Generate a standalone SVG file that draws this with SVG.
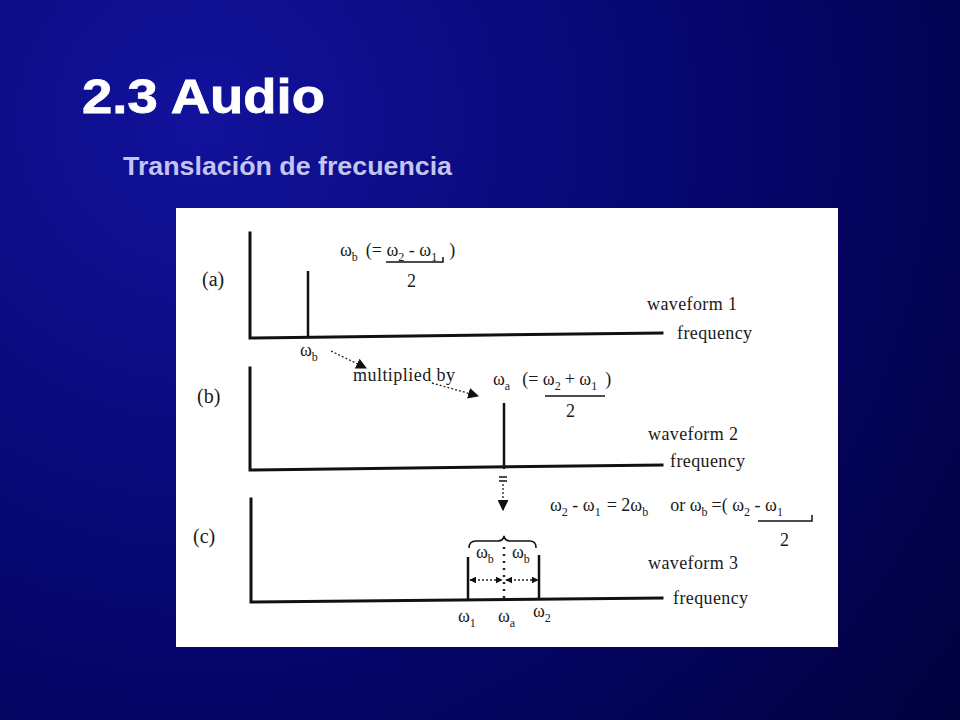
<svg xmlns="http://www.w3.org/2000/svg" width="960" height="720" viewBox="0 0 960 720">
<defs>
<radialGradient id="bg" cx="200" cy="120" r="1000" gradientUnits="userSpaceOnUse">
<stop offset="0" stop-color="#12129c"/>
<stop offset="0.55" stop-color="#05056a"/>
<stop offset="1" stop-color="#00003a"/>
</radialGradient>
<marker id="ah" viewBox="0 0 10 10" refX="9" refY="5" markerWidth="11" markerHeight="11" markerUnits="userSpaceOnUse" orient="auto">
<path d="M0,0 L10,5 L0,10 z" fill="#111"/>
</marker>
<marker id="ahs" viewBox="0 0 10 10" refX="9" refY="5" markerWidth="7" markerHeight="7" markerUnits="userSpaceOnUse" orient="auto-start-reverse">
<path d="M0,0 L10,5 L0,10 z" fill="#111"/>
</marker>
</defs>
<style>
.t{font-family:"Liberation Serif","Times New Roman",serif;font-size:18px;fill:#1a1a1a}
.lb{font-size:20px}
.s{font-size:12px}
.ax{stroke:#111;stroke-width:3;fill:none;stroke-linecap:square}
.sp{stroke:#111;stroke-width:2.5;fill:none}
.thin{stroke:#111;stroke-width:1.5;fill:none}
.dot{stroke:#222;stroke-width:1.3;stroke-dasharray:2 2;fill:none}
</style>
<rect width="960" height="720" fill="url(#bg)"/>
<g id="title">
<text x="82" y="113" font-family="Liberation Sans,Arial,sans-serif" font-weight="bold" font-size="48" fill="#ffffff" stroke="#ffffff" stroke-width="0.8" textLength="243" lengthAdjust="spacingAndGlyphs">2.3 Audio</text>
<text x="123" y="175" font-family="Liberation Sans,Arial,sans-serif" font-weight="bold" font-size="25" fill="#c4c4f0" textLength="329" lengthAdjust="spacingAndGlyphs">Translación de frecuencia</text>
</g>
<rect id="panel" x="176" y="208" width="662" height="439" fill="#ffffff"/>

<g id="panel-a">
<path class="ax" d="M250,233 L250,338 L662,333"/>
<line class="sp" x1="308" y1="271" x2="308" y2="337"/>
<text class="t lb" x="202" y="286">(a)</text>
<text class="t" x="340" y="256">ω<tspan class="s" dy="5">b</tspan><tspan dy="-5" dx="8">(= ω</tspan><tspan class="s" dy="5">2</tspan><tspan dy="-5"> - ω</tspan><tspan class="s" dy="5">1</tspan><tspan dy="-5" dx="12">)</tspan></text>
<path class="thin" d="M386,262 L443,262 L443,257"/>
<text class="t" x="407" y="287">2</text>
<text class="t" x="647" y="310" textLength="90">waveform 1</text>
<text class="t" x="677" y="339" textLength="75">frequency</text>
<text class="t" x="300" y="356">ω<tspan class="s" dy="5">b</tspan></text>
</g>

<g id="panel-b">
<path class="ax" d="M250,368 L250,470 L662,465"/>
<line class="sp" x1="504" y1="403" x2="504" y2="469"/>
<text class="t lb" x="197" y="403">(b)</text>
<text class="t" x="353" y="381" textLength="102">multiplied by</text>
<text class="t" x="493" y="385">ω<tspan class="s" dy="5">a</tspan><tspan dy="-5" dx="12">(= ω</tspan><tspan class="s" dy="5">2</tspan><tspan dy="-5" dx="4">+  ω</tspan><tspan class="s" dy="5">1</tspan><tspan dy="-5" dx="8">)</tspan></text>
<line class="thin" x1="545" y1="396" x2="605" y2="396"/>
<text class="t" x="566" y="417">2</text>
<text class="t" x="648" y="440" textLength="90">waveform 2</text>
<text class="t" x="670" y="467" textLength="75">frequency</text>
</g>

<g id="panel-c">
<path class="ax" d="M251,499 L251,602 L662,598"/>
<line class="sp" x1="468" y1="557" x2="468" y2="601"/>
<line class="sp" x1="539" y1="555" x2="539" y2="600"/>
<text class="t lb" x="193" y="543">(c)</text>
<text class="t" x="550" y="511">ω<tspan class="s" dy="5">2</tspan><tspan dy="-5"> - ω</tspan><tspan class="s" dy="5">1</tspan><tspan dy="-5" dx="6">= 2ω</tspan><tspan class="s" dy="5">b</tspan><tspan dy="-5" dx="22">or  ω</tspan><tspan class="s" dy="5">b</tspan><tspan dy="-5" dx="4">=( ω</tspan><tspan class="s" dy="5">2</tspan><tspan dy="-5"> - ω</tspan><tspan class="s" dy="5">1</tspan></text>
<path class="thin" d="M758,521 L812,521 L812,515"/>
<text class="t" x="780" y="546">2</text>
<path class="thin" d="M469,548 Q469,541 476,541 L498,541 Q503,541 504,536 Q505,541 510,541 L530,541 Q536,541 536,548"/>
<text class="t" x="476" y="558">ω<tspan class="s" dy="5">b</tspan></text>
<text class="t" x="512" y="558">ω<tspan class="s" dy="5">b</tspan></text>
<text class="t" x="648" y="569" textLength="90">waveform 3</text>
<text class="t" x="673" y="604" textLength="75">frequency</text>
<text class="t" x="458" y="622">ω<tspan class="s" dy="5">1</tspan></text>
<text class="t" x="498" y="622">ω<tspan class="s" dy="5">a</tspan></text>
<text class="t" x="533" y="617">ω<tspan class="s" dy="5">2</tspan></text>
</g>

<g id="connectors">
<line class="dot" x1="331" y1="351" x2="366" y2="368" marker-end="url(#ah)"/>
<line class="dot" x1="432" y1="383" x2="478" y2="396" marker-end="url(#ah)"/>
<line class="thin" x1="499" y1="477" x2="507" y2="477"/>
<line class="thin" x1="499" y1="481" x2="507" y2="481"/>
<line class="dot" x1="503" y1="484" x2="503" y2="510" marker-end="url(#ah)"/>
<line stroke="#222" stroke-width="2.5" stroke-dasharray="2 5" x1="504" y1="547" x2="504" y2="601"/>
<line class="dot" x1="470" y1="580" x2="502" y2="580" marker-start="url(#ahs)" marker-end="url(#ahs)"/>
<line class="dot" x1="506" y1="580" x2="538" y2="580" marker-start="url(#ahs)" marker-end="url(#ahs)"/>
</g>
</svg>
